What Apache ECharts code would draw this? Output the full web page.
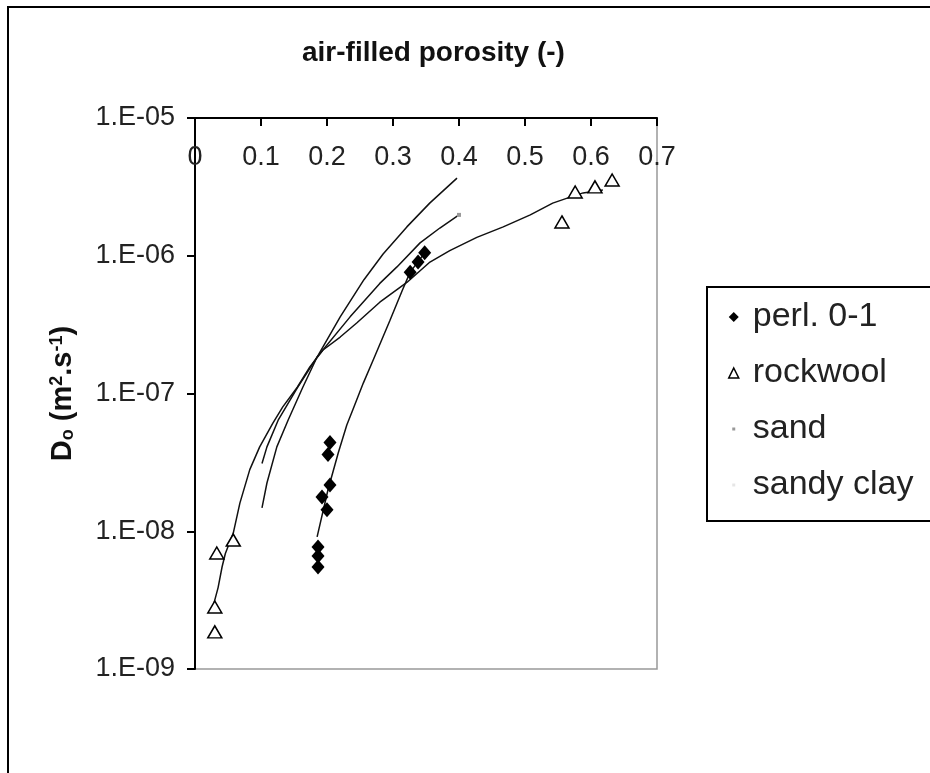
<!DOCTYPE html>
<html>
<head>
<meta charset="utf-8">
<script src="https://cdn.jsdelivr.net/npm/echarts@6/dist/echarts.min.js"></script>
<style>
  html, body { margin: 0; padding: 0; background: #fff; }
  #chart { width: 930px; height: 773px; }
</style>
</head>
<body>
<div id="chart"></div>
<script>
const xTickLabels = ['0', '0.1', '0.2', '0.3', '0.4', '0.5', '0.6', '0.7']
const yTickLabels = ['1.E-09', '1.E-08', '1.E-07', '1.E-06', '1.E-05']
const seriesNames = ['perl. 0-1', 'rockwool', 'sand', 'sandy clay']

// measured points [air-filled porosity, Do]
const perlPoints = [
  [0.2045, 4.4e-8], [0.2015, 3.6e-8], [0.2045, 2.17e-8], [0.1924, 1.77e-8],
  [0.2, 1.43e-8], [0.1864, 7.7e-9], [0.1864, 6.6e-9], [0.1864, 5.5e-9],
  [0.326, 7.6e-7], [0.338, 9.0e-7], [0.348, 1.05e-6],
]
const rockwoolPoints = [
  [0.03, 1.86e-9], [0.03, 2.82e-9], [0.033, 6.95e-9], [0.058, 8.63e-9],
  [0.556, 1.76e-6], [0.576, 2.9e-6], [0.606, 3.16e-6], [0.632, 3.55e-6],
]

// curves as drawn in the figure
const perlCurve = [
  [0.185, 9.1e-9], [0.2015, 2.0e-8], [0.217, 3.7e-8], [0.23, 5.9e-8], [0.239, 7.6e-8],
  [0.255, 1.19e-7], [0.27, 1.75e-7], [0.295, 3.36e-7], [0.314, 5.6e-7], [0.326, 7.6e-7],
  [0.348, 1.05e-6],
]
const rockwoolCurve = [
  [0.027, 2.8e-9], [0.035, 3.9e-9], [0.041, 5.5e-9], [0.046, 6.9e-9], [0.058, 9.7e-9],
  [0.068, 1.6e-8], [0.083, 2.8e-8], [0.098, 4.1e-8], [0.118, 6.1e-8], [0.133, 8.0e-8],
  [0.155, 1.11e-7], [0.174, 1.56e-7], [0.194, 2.07e-7], [0.22, 2.57e-7], [0.245, 3.25e-7],
  [0.28, 4.6e-7], [0.321, 6.4e-7], [0.356, 9.0e-7], [0.386, 1.09e-6], [0.427, 1.36e-6],
  [0.467, 1.62e-6], [0.508, 1.98e-6], [0.542, 2.41e-6], [0.564, 2.62e-6], [0.588, 2.86e-6],
  [0.618, 3.0e-6],
]
const sandCurve = [
  [0.1015, 3.1e-8], [0.109, 4.1e-8], [0.126, 6.4e-8], [0.155, 1.1e-7], [0.185, 1.84e-7],
  [0.235, 3.6e-7], [0.28, 6.3e-7], [0.306, 8.3e-7], [0.341, 1.24e-6], [0.371, 1.59e-6],
  [0.4, 1.98e-6],
]
const sandyClayCurve = [
  [0.1015, 1.48e-8], [0.109, 2.24e-8], [0.124, 4.1e-8], [0.141, 6.4e-8], [0.163, 1.1e-7],
  [0.185, 1.84e-7], [0.22, 3.6e-7], [0.256, 6.7e-7], [0.285, 1.03e-6], [0.321, 1.62e-6],
  [0.356, 2.42e-6], [0.397, 3.66e-6],
]

const FONT = '"Liberation Sans", Arial, sans-serif'
const smallDot = 'path://M0 0M10 10M3.5 3.5h3v3h-3z'

const fitLine = (name, data) => ({
  name: name,
  type: 'line',
  data: data,
  symbol: 'none',
  z: 2,
  lineStyle: { color: '#111', width: 1.5 },
})

const chart = echarts.init(document.getElementById('chart'))
chart.setOption({
  animation: false,
  backgroundColor: '#fff',
  title: {
    text: 'air-filled porosity (-)',
    left: 297,
    top: 34,
    textStyle: { fontFamily: FONT, fontSize: 28, fontWeight: 'bold', color: '#111' },
  },
  graphic: [
    {
      type: 'rect',
      shape: { x: 8, y: 7, width: 960, height: 820 },
      style: { fill: 'none', stroke: '#000', lineWidth: 2 },
      silent: true,
    },
  ],
  legend: {
    orient: 'vertical',
    left: 707,
    top: 287,
    padding: [12, 40, 18, 21],
    itemWidth: 10,
    itemHeight: 10,
    itemGap: 20,
    selectedMode: false,
    borderColor: '#000',
    borderWidth: 2,
    textStyle: { fontFamily: FONT, fontSize: 34, lineHeight: 36, color: '#222', padding: [0, 0, 0, 9] },
    data: [
      { name: seriesNames[0], icon: 'diamond', itemStyle: { color: '#000' } },
      { name: seriesNames[1], icon: 'triangle', itemStyle: { color: '#fff', borderColor: '#000', borderWidth: 1.5 } },
      { name: seriesNames[2], icon: smallDot, itemStyle: { color: '#999' } },
      { name: seriesNames[3], icon: smallDot, itemStyle: { color: '#e6e6e6' } },
    ],
  },
  grid: {
    left: 195,
    top: 118,
    right: 273,
    bottom: 104,
    show: true,
    borderColor: '#999',
    borderWidth: 1.5,
  },
  xAxis: {
    type: 'value',
    position: 'top',
    min: 0,
    max: 0.7,
    interval: 0.1,
    axisLine: { show: true, lineStyle: { color: '#000', width: 2 } },
    axisTick: { show: true, inside: true, length: 8, lineStyle: { color: '#000', width: 2 } },
    axisLabel: {
      inside: true,
      margin: 26,
      showMinLabel: true,
      showMaxLabel: true,
      fontFamily: FONT,
      fontSize: 27,
      color: '#222',
      formatter: (v) => xTickLabels[Math.round(v * 10)],
    },
    splitLine: { show: false },
  },
  yAxis: {
    type: 'log',
    logBase: 10,
    min: 1e-9,
    max: 1e-5,
    name: '{b|D}{sub|o}{b| (m}{sup|2}{b|.s}{sup|-1}{b|)}',
    nameLocation: 'middle',
    nameGap: 118,
    nameRotate: 90,
    nameTextStyle: {
      rich: {
        b: { fontFamily: FONT, fontSize: 29, fontWeight: 'bold', color: '#111' },
        sub: { fontFamily: FONT, fontSize: 18, fontWeight: 'bold', color: '#111', verticalAlign: 'bottom' },
        sup: { fontFamily: FONT, fontSize: 18, fontWeight: 'bold', color: '#111', verticalAlign: 'top' },
      },
    },
    axisLine: { show: true, lineStyle: { color: '#000', width: 2 } },
    axisTick: { show: true, length: 8, lineStyle: { color: '#000', width: 2 } },
    axisLabel: {
      margin: 20,
      fontFamily: FONT,
      fontSize: 27,
      color: '#222',
      formatter: (v) => yTickLabels[Math.round(Math.log10(v)) + 9],
    },
    splitLine: { show: false },
  },
  series: [
    fitLine('perl. 0-1 fit', perlCurve),
    fitLine('rockwool fit', rockwoolCurve),
    {
      name: seriesNames[2],
      type: 'line',
      data: sandCurve,
      symbol: 'rect',
      symbolSize: (val, params) => (params.dataIndex === sandCurve.length - 1 ? 4 : 0),
      itemStyle: { color: '#999' },
      lineStyle: { color: '#111', width: 1.5 },
      z: 2,
    },
    {
      name: seriesNames[3],
      type: 'line',
      data: sandyClayCurve,
      symbol: 'none',
      itemStyle: { color: '#e6e6e6' },
      lineStyle: { color: '#111', width: 1.5 },
      z: 2,
    },
    {
      name: seriesNames[0],
      type: 'scatter',
      data: perlPoints,
      symbol: 'diamond',
      symbolSize: [13, 15],
      itemStyle: { color: '#000', opacity: 1 },
      z: 3,
    },
    {
      name: seriesNames[1],
      type: 'scatter',
      data: rockwoolPoints,
      symbol: 'triangle',
      symbolSize: [14, 12],
      itemStyle: { color: '#fff', borderColor: '#000', borderWidth: 1.5, opacity: 1 },
      z: 3,
    },
  ],
})
</script>
</body>
</html>
